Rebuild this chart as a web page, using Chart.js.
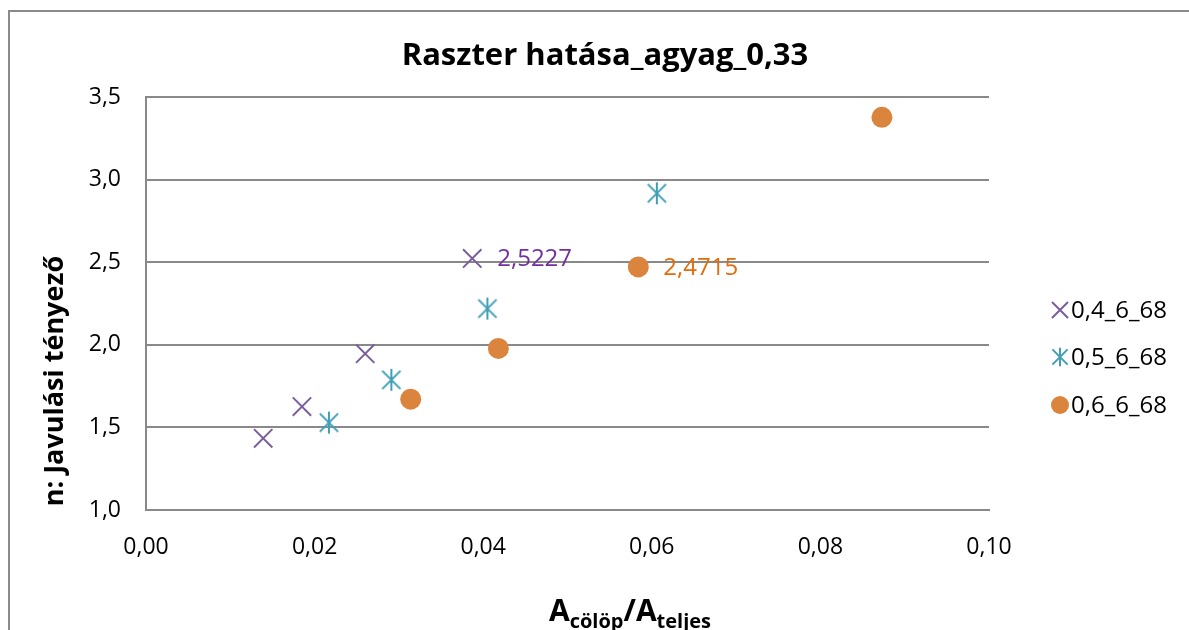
<!DOCTYPE html>
<html>
<head>
<meta charset="utf-8">
<script src="https://cdn.jsdelivr.net/npm/chart.js@4.4.1/dist/chart.umd.min.js"></script>
<style>
  html, body { margin: 0; padding: 0; background: #ffffff; }
  #wrap { position: relative; width: 1189px; height: 630px; }
</style>
</head>
<body>
<div id="wrap"><canvas id="chart"></canvas></div>
<script>
// Series: x = A_cölöp/A_teljes, y = javulási tényező (n)
const series1Name = '0,4_6_68';
const series1X = [0.0139, 0.0185, 0.0260, 0.0387];
const series1Y = [1.434, 1.626, 1.946, 2.5227];

const series2Name = '0,5_6_68';
const series2X = [0.0217, 0.0291, 0.0405, 0.0606];
const series2Y = [1.529, 1.788, 2.219, 2.917];

const series3Name = '0,6_6_68';
const series3X = [0.0314, 0.0418, 0.0584, 0.0873];
const series3Y = [1.671, 1.978, 2.4715, 3.377];

// Points that carry a value label (series index, point index)
const labelledPoints = [[0, 3], [2, 2]];

const xTicks = [0, 0.02, 0.04, 0.06, 0.08, 0.10];
const yTicks = [1.0, 1.5, 2.0, 2.5, 3.0, 3.5];

const titleText = 'Raszter hatása_agyag_0,33';
const yTitleText = 'n: Javulási tényező';

const FONT = '"Open Sans", "DejaVu Sans", sans-serif';
const GRID = '#898989';

// asterisk marker: X with a vertical stroke
function makeAsterisk(color, s) {
  const c = document.createElement('canvas');
  c.width = s; c.height = s;
  const g = c.getContext('2d');
  const m = s / 2, a = s * 0.38, v = s * 0.46;
  g.strokeStyle = color; g.lineWidth = 2; g.lineCap = 'butt';
  g.beginPath();
  g.moveTo(m - a, m - a); g.lineTo(m + a, m + a);
  g.moveTo(m + a, m - a); g.lineTo(m - a, m + a);
  g.moveTo(m, m - v); g.lineTo(m, m + v);
  g.stroke();
  return c;
}

const purple = '#7a5e9e';
const teal = '#3f9fb7';
const orange = '#db843d';
const asterisk = makeAsterisk(teal, 24);
const asteriskSmall = makeAsterisk(teal, 20);

function pts(xs, ys) { return xs.map((x, i) => ({ x: x, y: ys[i] })); }

const datasets = [
  { label: series1Name, data: pts(series1X, series1Y), pointStyle: 'crossRot', pointRadius: 13,
    borderColor: purple, backgroundColor: purple, pointBorderWidth: 2, showLine: false,
    labelColor: '#7030a0' },
  { label: series2Name, data: pts(series2X, series2Y), pointStyle: asterisk, pointRadius: 12,
    borderColor: teal, backgroundColor: teal, showLine: false },
  { label: series3Name, data: pts(series3X, series3Y), pointStyle: 'circle', pointRadius: 10.5,
    borderColor: orange, backgroundColor: orange, pointBorderWidth: 0, showLine: false,
    labelColor: '#e46c0a' }
];

function commaNum(v, d) { return v.toFixed(d).replace('.', ','); }

const decorPlugin = {
  id: 'decor',
  beforeDraw(chart) {
    const ctx = chart.ctx;
    ctx.save();
    ctx.fillStyle = '#ffffff';
    ctx.fillRect(0, 0, chart.width, chart.height);
    // outer frame
    ctx.strokeStyle = '#8a8a8a';
    ctx.lineWidth = 2;
    ctx.beginPath();
    ctx.moveTo(9, 640); ctx.lineTo(9, 11); ctx.lineTo(1200, 11);
    ctx.stroke();
    ctx.restore();
  },
  afterDraw(chart) {
    const ctx = chart.ctx;
    ctx.save();
    // title
    ctx.fillStyle = '#000000';
    ctx.font = 'bold 31px ' + FONT;
    ctx.textAlign = 'center';
    ctx.textBaseline = 'middle';
    ctx.fillText(titleText, 605, 56);

    // y axis title
    ctx.save();
    ctx.translate(55, 381);
    ctx.rotate(-Math.PI / 2);
    ctx.font = 'bold 27px ' + FONT;
    ctx.fillText(yTitleText, 0, 0);
    ctx.restore();

    // x axis title with subscripts
    ctx.textAlign = 'left';
    ctx.textBaseline = 'alphabetic';
    const parts = [['A', 30, 0], ['cölöp', 20, 7], ['/A', 30, 0], ['teljes', 20, 7]];
    let x = 549;
    const base = 621;
    parts.forEach(p => {
      ctx.font = 'bold ' + p[1] + 'px ' + FONT;
      ctx.fillText(p[0], x, base + p[2]);
      x += ctx.measureText(p[0]).width;
    });

    // value labels
    ctx.font = '24px ' + FONT;
    ctx.textBaseline = 'middle';
    labelledPoints.forEach(([di, pi]) => {
      const el = chart.getDatasetMeta(di).data[pi];
      const v = chart.data.datasets[di].data[pi].y;
      ctx.fillStyle = chart.data.datasets[di].labelColor;
      ctx.fillText(commaNum(v, 4), el.x + 25, el.y + 1);
    });

    // legend
    const legendY = [310, 357, 405];
    const lx = 1060;
    chart.data.datasets.forEach((ds, i) => {
      const ly = legendY[i];
      ctx.fillStyle = ds.borderColor;
      ctx.strokeStyle = ds.borderColor;
      ctx.lineWidth = 2;
      if (i === 2) {
        ctx.beginPath(); ctx.arc(lx, ly, 9, 0, Math.PI * 2); ctx.fill();
      } else if (i === 0) {
        ctx.beginPath();
        ctx.moveTo(lx - 8, ly - 8); ctx.lineTo(lx + 8, ly + 8);
        ctx.moveTo(lx + 8, ly - 8); ctx.lineTo(lx - 8, ly + 8);
        ctx.stroke();
      } else {
        ctx.drawImage(asteriskSmall, lx - 10, ly - 10);
      }
      ctx.fillStyle = '#000000';
      ctx.font = '24px ' + FONT;
      ctx.textAlign = 'left';
      ctx.fillText(ds.label, 1071, ly + 1);
    });
    ctx.restore();
  }
};

new Chart(document.getElementById('chart'), {
  type: 'scatter',
  data: { datasets: datasets },
  options: {
    responsive: true,
    maintainAspectRatio: false,
    animation: false,
    events: [],
    layout: { padding: { left: 0, top: 97, right: 200, bottom: 0 } },
    plugins: { legend: { display: false }, title: { display: false }, tooltip: { enabled: false } },
    scales: {
      x: {
        type: 'linear', min: 0, max: 0.1,
        afterBuildTicks(scale) { scale.ticks = xTicks.map(v => ({ value: v })); },
        afterFit(scale) { scale.height = 120; },
        grid: { display: false, drawTicks: false },
        border: { display: true, color: GRID, width: 2 },
        ticks: { padding: 24, color: '#000000', font: { family: FONT, size: 23 },
                 callback: v => commaNum(v, 2), maxRotation: 0 }
      },
      y: {
        type: 'linear', min: 1, max: 3.5,
        afterBuildTicks(scale) { scale.ticks = yTicks.map(v => ({ value: v })); },
        afterFit(scale) { scale.width = 146; },
        grid: { color: GRID, lineWidth: 2, drawTicks: false },
        border: { display: true, color: GRID, width: 2 },
        ticks: { padding: 25, color: '#000000', font: { family: FONT, size: 23 },
                 callback: v => commaNum(v, 1) }
      }
    }
  },
  plugins: [decorPlugin]
});
</script>
</body>
</html>
